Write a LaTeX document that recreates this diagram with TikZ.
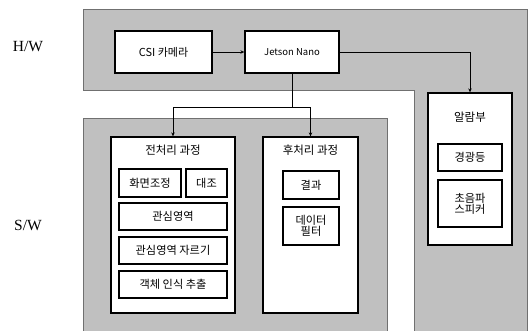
\documentclass[tikz,border=0pt]{standalone}
\usepackage{fontspec}
\setmainfont{Noto Sans CJK KR}
\newfontfamily\serifhw{Liberation Serif}
\usetikzlibrary{arrows.meta}
\definecolor{areagray}{HTML}{C0C0C0}
\definecolor{areaedge}{HTML}{707070}
\begin{document}
\begin{tikzpicture}[x=1pt,y=-1pt,
  area/.style={fill=areagray,draw=areaedge,line width=0.6pt},
  box/.style={draw=black,fill=white,line width=1.3pt,rectangle,inner sep=0pt,font=\fontsize{11.2}{13}\selectfont,align=center},
  lbl/.style={inner sep=0pt,font=\fontsize{11.5}{13}\selectfont},
  side/.style={inner sep=0pt,font=\serifhw\fontsize{15.5}{17}\selectfont},
  conn/.style={draw=black,line width=0.7pt},
  arr/.style={conn,-{Stealth[length=4pt,width=3.5pt]}}]
\useasboundingbox (0,0) rectangle (530,330);
% areas
\path[area] (83,9) -- (527,9) -- (527,332) -- (414,332) -- (414,90) -- (83,90) -- cycle;
\path[area] (83,118) -- (387,118) -- (387,332) -- (83,332) -- cycle;
% side labels
\node[side] (hw) at (28,47) {H/W};
\node[side] (sw) at (28,225) {S/W};
% hardware
\node[box,minimum width=97pt,minimum height=42pt,font=\fontsize{11}{13}\selectfont] (csi) at (163.5,52) {CSI 카메라};
\node[box,minimum width=94pt,minimum height=42pt,font=\fontsize{9.5}{11}\selectfont] (jet) at (292,52) {Jetson Nano};
\node[box,minimum width=84pt,minimum height=152pt] (alarm) at (470,169) {};
\node[lbl] (alarmt) at (470,117) {알람부};
\node[box,minimum width=64pt,minimum height=27pt] (lamp) at (470,157.5) {경광등};
\node[box,minimum width=64pt,minimum height=47pt] (spk) at (470,203.5) {초음파\\[-2pt]스피커};
% software
\node[box,minimum width=124pt,minimum height=176pt] (pre) at (173,225) {};
\node[lbl] (pret) at (173,150) {전처리 과정};
\node[box,minimum width=95pt,minimum height=176pt] (post) at (310.5,225) {};
\node[lbl] (postt) at (310.5,150) {후처리 과정};
\node[box,minimum width=62pt,minimum height=28pt] (adj) at (150,183) {화면조정};
\node[box,minimum width=41pt,minimum height=28pt] (con) at (206.5,183) {대조};
\node[box,minimum width=108pt,minimum height=27pt] (roi) at (173,216.5) {관심영역};
\node[box,minimum width=108pt,minimum height=27pt] (crop) at (173,250.5) {관심영역 자르기};
\node[box,minimum width=108pt,minimum height=27pt] (obj) at (173,284.5) {객체 인식 추출};
\node[box,minimum width=56pt,minimum height=28pt] (res) at (311,185) {결과};
\node[box,minimum width=56pt,minimum height=38pt] (flt) at (311,226) {데이터\\[-2pt]필터};
% connectors
\coordinate (split) at (292,107);
\draw[arr] (csi.east) -- (jet.west);
\draw[arr] (jet.east) -| (alarm.north);
\draw[conn] (jet.south) -- (split);
\draw[arr] (split) -| (pre.north);
\draw[arr] (split) -| (post.north);
\end{tikzpicture}
\end{document}
